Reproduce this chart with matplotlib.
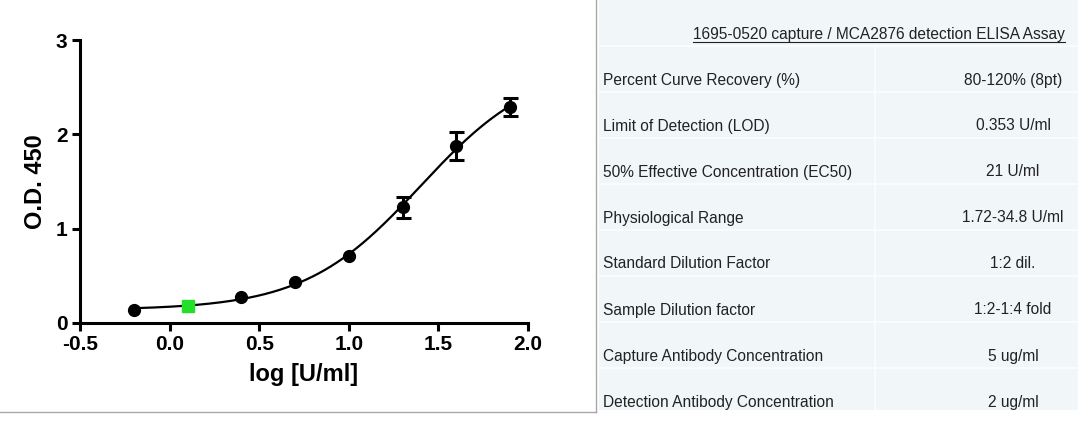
import numpy as np
import matplotlib
matplotlib.use("Agg")
import matplotlib.pyplot as plt
from matplotlib.lines import Line2D
from matplotlib.patches import Rectangle

# ---------------- data ----------------
log_conc = [-0.2, 0.1, 0.4, 0.7, 1.0, 1.3, 1.6, 1.9]
od450 = [0.134, 0.183, 0.271, 0.437, 0.715, 1.225, 1.877, 2.29]
od_err = [0.0, 0.0, 0.0, 0.0, 0.0, 0.115, 0.145, 0.10]
highlight_index = 1  # green square point

x_ticks = [-0.5, 0.0, 0.5, 1.0, 1.5, 2.0]
y_ticks = [0, 1, 2, 3]

table_title = "1695-0520 capture / MCA2876 detection ELISA Assay"
table_params = [
    "Percent Curve Recovery (%)",
    "Limit of Detection (LOD)",
    "50% Effective Concentration (EC50)",
    "Physiological Range",
    "Standard Dilution Factor",
    "Sample Dilution factor",
    "Capture Antibody Concentration",
    "Detection Antibody Concentration",
]
table_values = [
    "80-120% (8pt)",
    "0.353 U/ml",
    "21 U/ml",
    "1.72-34.8 U/ml",
    "1:2 dil.",
    "1:2-1:4 fold",
    "5 ug/ml",
    "2 ug/ml",
]

# ---------------- 4PL fit (grid search + linear LS) ----------------
xd = np.array(log_conc)
yd = np.array(od450)
best = None
for lec in np.linspace(1.0, 2.2, 241):
    for hill in np.linspace(0.5, 3.0, 251):
        s = 1.0 / (1.0 + 10 ** ((lec - xd) * hill))
        A = np.column_stack([1 - s, s])
        coef, *_ = np.linalg.lstsq(A, yd, rcond=None)
        r = np.sum((A @ coef - yd) ** 2)
        if best is None or r < best[0]:
            best = (r, lec, hill, coef)
_, lec, hill, (bottom, top) = best
xf = np.linspace(min(log_conc), max(log_conc), 300)
yf = bottom + (top - bottom) / (1.0 + 10 ** ((lec - xf) * hill))

# ---------------- figure ----------------
W, H = 1080, 422
fig = plt.figure(figsize=(W / 100, H / 100), dpi=100)
fig.patch.set_facecolor("white")

bold = dict(family="Liberation Sans", weight="bold")

ax = fig.add_axes([80 / W, 1 - 323 / H, (528 - 80) / W, (323 - 40) / H])
ax.set_xlim(-0.5, 2.0)
ax.set_ylim(0, 3)
for side in ["top", "right"]:
    ax.spines[side].set_visible(False)
for side in ["left", "bottom"]:
    ax.spines[side].set_linewidth(2.2)
ax.set_xticks(x_ticks)
ax.set_xticklabels([f"{t:.1f}" for t in x_ticks])
ax.set_yticks(y_ticks)
ax.set_yticklabels([str(t) for t in y_ticks])
ax.tick_params(width=2.2, length=6, direction="out", labelsize=15, pad=3)
for lab in ax.get_xticklabels() + ax.get_yticklabels():
    lab.set_fontfamily("Liberation Sans")
    lab.set_fontweight("bold")

ax.plot(xf, yf, color="black", lw=1.6, zorder=2, clip_on=False)
idx = [i for i in range(len(log_conc)) if i != highlight_index]
ax.plot([log_conc[i] for i in idx], [od450[i] for i in idx], "o",
        color="black", ms=8.5, zorder=3, clip_on=False)
eidx = [i for i in idx if od_err[i] > 0]
ax.errorbar([log_conc[i] for i in eidx], [od450[i] for i in eidx],
            yerr=[od_err[i] for i in eidx], fmt="none", ecolor="black",
            elinewidth=2.2, capsize=5.4, capthick=2.2, zorder=3,
            clip_on=False)
ax.plot([log_conc[highlight_index]], [od450[highlight_index]], "s",
        color="#22e02a", ms=8.5, zorder=4, clip_on=False)

ax.set_xlabel("log [U/ml]", fontsize=17, labelpad=6, **bold)
ax.set_ylabel("O.D. 450", fontsize=17, labelpad=6, **bold)

# frame around chart panel
fig.add_artist(Line2D([0, 596 / W], [1 - 412 / H, 1 - 412 / H],
                      transform=fig.transFigure, color="#a8a8a8", lw=1))
fig.add_artist(Line2D([596 / W, 596 / W], [1 - 412 / H, 1],
                      transform=fig.transFigure, color="#a8a8a8", lw=1))

# ---------------- table panel ----------------
tx0, tx1, ty1 = 599, 1078, 410
tax = fig.add_axes([tx0 / W, 1 - ty1 / H, (tx1 - tx0) / W, ty1 / H])
tax.set_xlim(tx0, tx1)
tax.set_ylim(ty1, 0)
tax.axis("off")
tax.add_patch(Rectangle((tx0, 0), tx1 - tx0, ty1, facecolor="#f1f6f9",
                        edgecolor="none", zorder=0))

row_y0, row_dy = 80, 46
tcolor = "#222222"
reg = dict(family="Liberation Sans", fontsize=11.2, color=tcolor)

# faint separators
for i in range(len(table_params) + 1):
    y = row_y0 - row_dy + 12 + i * row_dy
    if y < ty1:
        tax.plot([tx0, tx1], [y, y], color="white", lw=1.2, alpha=0.8, zorder=1)
tax.plot([875, 875], [row_y0 - row_dy + 12, ty1], color="white", lw=1.2,
         alpha=0.8, zorder=1)

title = tax.text(1065, 35, table_title, ha="right", va="center", **reg)
fig.canvas.draw()
bb = title.get_window_extent().transformed(tax.transData.inverted())
uy = max(bb.y0, bb.y1) - 1
tax.plot([min(bb.x0, bb.x1), max(bb.x0, bb.x1)], [uy, uy], color=tcolor, lw=0.8)

for i, (p, v) in enumerate(zip(table_params, table_values)):
    y = row_y0 + i * row_dy
    tax.text(603, y, p, ha="left", va="center", **reg)
    tax.text(1013, y, v, ha="center", va="center", **reg)

fig.savefig("out.png", dpi=100, facecolor="white")
